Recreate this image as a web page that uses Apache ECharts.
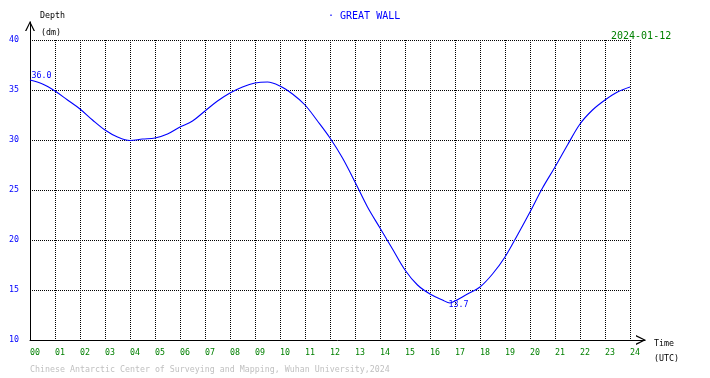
<!DOCTYPE html>
<html>
<head>
<meta charset="utf-8">
<script src="https://cdn.jsdelivr.net/npm/echarts@6/dist/echarts.min.js"></script>
<style>
  html, body { margin: 0; padding: 0; background: #fff; }
  #tideChart { width: 710px; height: 378px; }
</style>
</head>
<body>
<div id="tideChart"></div>
<script>
// tide depth at Great Wall station, hours (UTC) vs depth (dm)
const hours = [0, 0.5, 1, 1.5, 2, 2.5, 3, 3.5, 4, 4.5, 5, 5.5, 6, 6.5, 7, 7.5, 8, 8.5, 9, 9.5,
  10, 10.5, 11, 11.5, 12, 12.5, 13, 13.5, 14, 14.5, 15, 15.5, 16, 16.5, 16.8, 17, 17.5, 18, 18.5,
  19, 19.5, 20, 20.5, 21, 21.5, 22, 22.5, 23, 23.5, 24]
const depth = [36.0, 35.6, 34.9, 34.0, 33.1, 32.0, 31.0, 30.3, 29.95, 30.1, 30.2, 30.6, 31.3, 31.9, 32.9, 33.9, 34.7, 35.3, 35.7, 35.8,
  35.4, 34.6, 33.5, 31.9, 30.2, 28.2, 25.8, 23.3, 21.2, 19.1, 17.0, 15.5, 14.6, 14.0, 13.7, 13.9, 14.6, 15.3, 16.6,
  18.3, 20.5, 22.8, 25.2, 27.3, 29.5, 31.6, 33.0, 34.0, 34.8, 35.3]
const xTicks = ['00', '01', '02', '03', '04', '05', '06', '07', '08', '09', '10', '11', '12',
  '13', '14', '15', '16', '17', '18', '19', '20', '21', '22', '23', '24']
const yTicks = [10, 15, 20, 25, 30, 35, 40]

const station = 'GREAT WALL'
const dateText = '2024-01-12'
const footer = 'Chinese Antarctic Center of Surveying and Mapping, Wuhan University,2024'

const mono = '"DejaVu Sans Mono", "Liberation Mono", monospace'
const chevron = 'path://M0,10 L5,0 L10,10 L8.6,10 L5,2.6 L1.4,10 Z'

const chart = echarts.init(document.getElementById('tideChart'))

const option = {
  animation: false,
  grid: [
    { left: 30, top: 40, width: 600, height: 300 },
    { left: 30, top: 22, width: 615, height: 318 }
  ],
  xAxis: [
    {
      type: 'value',
      gridIndex: 0,
      min: 0,
      max: 24,
      interval: 1,
      axisLine: { show: false },
      axisTick: { show: false },
      splitLine: { lineStyle: { color: '#000', type: [1, 1], width: 1 } },
      axisLabel: {
        color: '#008000',
        fontFamily: mono,
        fontSize: 8.3,
        align: 'left',
        margin: 9,
        formatter: (v) => xTicks[v]
      }
    },
    {
      type: 'value',
      gridIndex: 1,
      min: 0,
      max: 1,
      axisLine: {
        onZero: false,
        symbol: ['none', chevron],
        symbolSize: [10, 11],
        symbolOffset: [0, -4],
        lineStyle: { color: '#000', width: 1 }
      },
      axisTick: { show: false },
      axisLabel: { show: false },
      splitLine: { show: false }
    }
  ],
  yAxis: [
    {
      type: 'value',
      gridIndex: 0,
      min: 10,
      max: 40,
      interval: 5,
      axisLine: { show: false },
      axisTick: { show: false },
      splitLine: { lineStyle: { color: '#000', type: [1, 1], width: 1 } },
      axisLabel: {
        color: '#0000ff',
        fontFamily: mono,
        fontSize: 8.3,
        margin: 11,
        padding: [0, 0, 4, 0],
        formatter: (v) => yTicks.includes(v) ? String(v) : ''
      }
    },
    {
      type: 'value',
      gridIndex: 1,
      min: 0,
      max: 1,
      axisLine: {
        onZero: false,
        symbol: ['none', chevron],
        symbolSize: [10, 11],
        symbolOffset: [0, -4],
        lineStyle: { color: '#000', width: 1 }
      },
      axisTick: { show: false },
      axisLabel: { show: false },
      splitLine: { show: false }
    }
  ],
  series: [
    {
      name: 'Depth',
      type: 'line',
      xAxisIndex: 0,
      yAxisIndex: 0,
      data: hours.map((h, i) => [h, depth[i]]),
      smooth: 0.35,
      showSymbol: false,
      lineStyle: { color: '#0000ff', width: 1.1 },
      markPoint: {
        symbol: 'circle',
        symbolSize: 1,
        itemStyle: { color: 'rgba(0,0,0,0)' },
        label: {
          color: '#0000ff',
          fontFamily: mono,
          fontSize: 8.3,
          align: 'center',
          verticalAlign: 'middle',
          formatter: (p) => p.value.toFixed(1)
        },
        data: [
          { coord: [hours[0], depth[0]], value: depth[0], label: { position: [12, -4] } },
          { type: 'min', label: { position: [9, 2] } }
        ]
      }
    }
  ],
  graphic: [
    { type: 'text', left: 328, top: 11, style: { text: '· ' + station, fill: '#0000ff', font: '10px ' + mono } },
    { type: 'text', left: 611, top: 31, style: { text: dateText, fill: '#008000', font: '10px ' + mono, backgroundColor: '#fff' } },
    { type: 'text', left: 40, top: 12, style: { text: 'Depth', fill: '#000', font: '8.3px ' + mono } },
    { type: 'text', left: 41, top: 29, style: { text: '(dm)', fill: '#000', font: '8.3px ' + mono } },
    { type: 'text', left: 654, top: 340, style: { text: 'Time', fill: '#000', font: '8.3px ' + mono } },
    { type: 'text', left: 654, top: 355, style: { text: '(UTC)', fill: '#000', font: '8.3px ' + mono } },
    { type: 'text', left: 30, top: 366, style: { text: footer, fill: '#c0c0c0', font: '8.3px ' + mono } }
  ]
}

chart.setOption(option)
</script>
</body>
</html>
